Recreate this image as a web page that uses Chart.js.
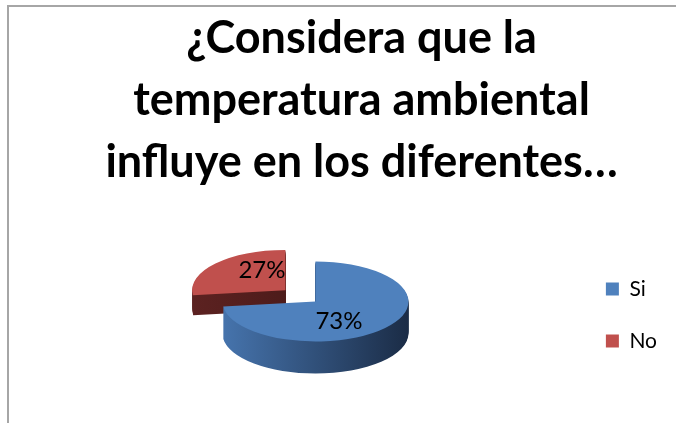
<!DOCTYPE html>
<html>
<head>
<meta charset="utf-8">
<script src="https://cdn.jsdelivr.net/npm/chart.js@4/dist/chart.umd.min.js"></script>
<style>
  html, body { margin: 0; padding: 0; background: #fff; overflow: hidden; }
  #frame { position: absolute; left: 7px; top: 5px; width: 720px; height: 460px; border: 2px solid #a6a6a6; }
  #wrap { position: absolute; left: 0; top: 0; width: 676px; height: 423px; }
</style>
</head>
<body>
<div id="frame"></div>
<div id="wrap"><canvas id="pieChart" width="676" height="423"></canvas></div>
<script>
const titleLines = ['¿Considera que la', 'temperatura ambiental', 'influye en los diferentes…'];
const categories = ['Si', 'No'];
const values = [73, 27];
const sliceColors = ['#4f81bd', '#c0504d'];
const sideColors = [['#4674ad', '#1b2c46'], ['#5c2221', '#3f1514']];
const explode = [0, 160];

const TILT = 0.43;      // vertical squash of the pie
const DEPTH = 32;       // thickness of the pie at its centre, px
const PERSP = 0.014;    // slices pushed back look thinner
const LABEL_TURN = 0.38;
const LABEL_POS = 0.56;

function squash(ctx, cx, cy) {
    ctx.translate(cx, cy);
    ctx.scale(1, TILT);
    ctx.translate(-cx, -cy);
}

function sliceCenter(arc) {
    const mid = (arc.startAngle + arc.endAngle) / 2;
    const off = (arc.options.offset || 0) / 4;
    return { x: arc.x + Math.cos(mid) * off, y: arc.y + Math.sin(mid) * off, mid: mid };
}

const pie3d = {
    id: 'pie3d',
    beforeDatasetDraw(chart, args) {
        const ctx = chart.ctx;
        const arcs = args.meta.data;
        const cx = arcs[0].x, cy = arcs[0].y;
        // slices lying further back are painted first
        const order = arcs.map((a, i) => i)
            .sort((a, b) => Math.sin(sliceCenter(arcs[a]).mid) - Math.sin(sliceCenter(arcs[b]).mid));

        order.forEach(i => {
            const arc = arcs[i];
            const c = sliceCenter(arc);
            const r = arc.outerRadius;
            const depth = Math.round(DEPTH * (1 + PERSP * (c.y - cy)));
            for (let d = depth; d >= 1; d--) {
                ctx.save();
                ctx.translate(0, d);
                squash(ctx, cx, cy);
                const grad = ctx.createLinearGradient(c.x - r, 0, c.x + r, 0);
                grad.addColorStop(0, sideColors[i][0]);
                grad.addColorStop(1, sideColors[i][1]);
                ctx.fillStyle = grad;
                ctx.beginPath();
                ctx.moveTo(c.x, c.y);
                ctx.arc(c.x, c.y, r, arc.startAngle, arc.endAngle);
                ctx.closePath();
                ctx.fill();
                ctx.restore();
            }
            ctx.save();
            squash(ctx, cx, cy);
            arc.draw(ctx);
            ctx.restore();
        });
        return false;
    },
    afterDatasetsDraw(chart) {
        const ctx = chart.ctx;
        const meta = chart.getDatasetMeta(0);
        const total = values.reduce((s, v) => s + v, 0);
        ctx.save();
        ctx.font = '24px Lato';
        ctx.fillStyle = '#000';
        ctx.textAlign = 'center';
        ctx.textBaseline = 'middle';
        meta.data.forEach((arc, i) => {
            const c = sliceCenter(arc);
            const a = c.mid + LABEL_TURN;
            const px = c.x + Math.cos(a) * arc.outerRadius * LABEL_POS;
            const py = arc.y + (c.y - arc.y + Math.sin(a) * arc.outerRadius * LABEL_POS) * TILT;
            ctx.fillText(Math.round(values[i] / total * 100) + '%', px, py);
        });
        ctx.restore();
    }
};

Chart.defaults.font.family = 'Lato';

new Chart(document.getElementById('pieChart').getContext('2d'), {
    type: 'pie',
    data: {
        labels: categories,
        datasets: [{
            data: values,
            backgroundColor: sliceColors,
            borderWidth: 0,
            offset: explode,
            radius: 93
        }]
    },
    options: {
        responsive: false,
        animation: false,
        layout: {
            padding: { left: 56, right: 9, top: 4, bottom: 13 }
        },
        plugins: {
            title: {
                display: true,
                text: titleLines,
                color: '#000',
                font: { family: 'Lato', size: 45, weight: 'bold', lineHeight: '62px' },
                padding: { top: 3, bottom: 0 }
            },
            legend: {
                position: 'right',
                fullSize: false,
                title: { display: true, text: '', padding: 0, font: { size: 10, lineHeight: '27px' } },
                labels: {
                    boxWidth: 13,
                    boxHeight: 13,
                    padding: 31,
                    color: '#000',
                    font: { size: 21 }
                }
            },
            tooltip: { enabled: false }
        }
    },
    plugins: [pie3d]
});
</script>
</body>
</html>
